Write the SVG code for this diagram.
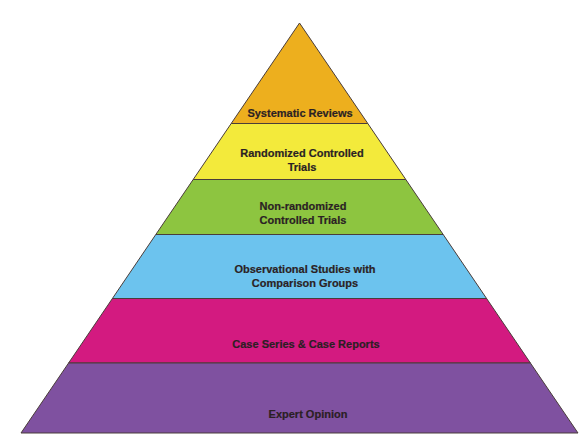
<svg xmlns="http://www.w3.org/2000/svg" width="583" height="441" viewBox="0 0 583 441">
  <style>
    .layer { stroke: #4a3d3a; stroke-width: 1; stroke-linejoin: round; }
    .lbl { font-family: "Liberation Sans", Arial, sans-serif; font-weight: bold; font-size: 11px; fill: #2b1f24; stroke: #2b1f24; stroke-width: 0.2; text-anchor: middle; }
  </style>
  <rect width="583" height="441" fill="#ffffff"/>
  <g id="systematic-reviews">
    <polygon class="layer" fill="#EDAF1E" points="299.5,23 367.8,123.5 231.2,123.5"/>
    <text class="lbl" x="300" y="116.5">Systematic Reviews</text>
  </g>
  <g id="randomized-controlled-trials">
    <polygon class="layer" fill="#F3EA3B" points="231.2,123.5 367.8,123.5 405.8,179.5 193.2,179.5"/>
    <text class="lbl" x="302" y="156.5">Randomized Controlled</text>
    <text class="lbl" x="302" y="170.5">Trials</text>
  </g>
  <g id="non-randomized-controlled-trials">
    <polygon class="layer" fill="#8DC540" points="193.2,179.5 405.8,179.5 443.2,234.5 155.8,234.5"/>
    <text class="lbl" x="303" y="210">Non-randomized</text>
    <text class="lbl" x="303" y="224">Controlled Trials</text>
  </g>
  <g id="observational-studies">
    <polygon class="layer" fill="#6CC3EE" points="155.8,234.5 443.2,234.5 486.6,298.5 112.4,298.5"/>
    <text class="lbl" x="305" y="273">Observational Studies with</text>
    <text class="lbl" x="305" y="287">Comparison Groups</text>
  </g>
  <g id="case-series">
    <polygon class="layer" fill="#D31A80" points="112.4,298.5 486.6,298.5 530.4,363 68.6,363"/>
    <text class="lbl" x="306" y="347.5">Case Series &amp; Case Reports</text>
  </g>
  <g id="expert-opinion">
    <polygon class="layer" fill="#7F51A0" points="68.6,363 530.4,363 578,433 21,433"/>
    <text class="lbl" x="308" y="418">Expert Opinion</text>
  </g>
</svg>
